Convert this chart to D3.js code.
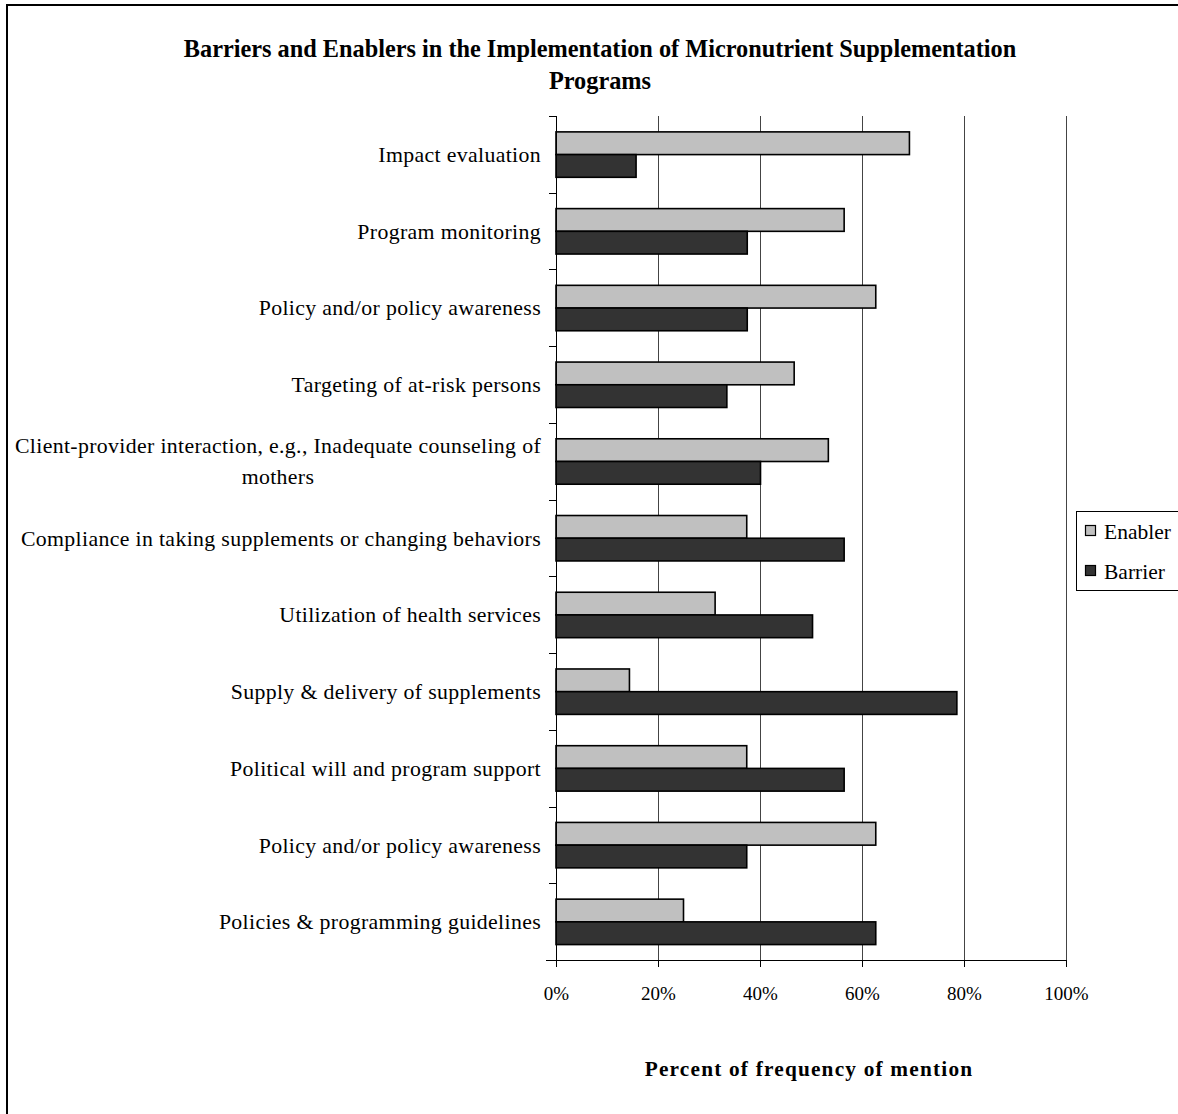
<!DOCTYPE html>
<html>
<head>
<meta charset="utf-8">
<script src="https://cdn.jsdelivr.net/npm/d3@7"></script>
<style>
  html, body { margin: 0; padding: 0; background: #fff; }
  svg { display: block; font-family: "Liberation Serif", "Times New Roman", serif; }
</style>
</head>
<body>
<svg id="chart" width="1178" height="1114"></svg>
<script>
// Categories, top to bottom
const categories = [
  "Impact evaluation",
  "Program monitoring ",
  "Policy and/or policy awareness",
  "Targeting of at-risk persons",
  "Client-provider interaction, e.g., Inadequate counseling of|mothers",
  "Compliance in taking supplements or changing behaviors",
  "Utilization of health services",
  "Supply & delivery of supplements",
  "Political will and program support",
  "Policy and/or policy awareness ",
  "Policies & programming guidelines"
];
// Percent of frequency of mention
const enablerValues = [69.3, 56.5, 62.7, 46.7, 53.4, 37.4, 31.2, 14.4, 37.4, 62.7, 25.0];
const barrierValues = [15.7, 37.5, 37.5, 33.5, 40.1, 56.5, 50.3, 78.6, 56.5, 37.4, 62.7];
const seriesNames = ["Enabler", "Barrier"];
const seriesColors = ["#c0c0c0", "#333333"];
const xTicks = [0, 20, 40, 60, 80, 100];

const svg = d3.select("#chart");

// outer frame
svg.append("rect")
  .attr("x", 7).attr("y", 5).attr("width", 1200).attr("height", 1200)
  .attr("fill", "none").attr("stroke", "#000").attr("stroke-width", 2);

const plot = { left: 556, right: 1066, top: 116, bottom: 960 };

const x = d3.scaleLinear().domain([0, 100]).range([plot.left, plot.right]);
const y = d3.scaleBand().domain(d3.range(categories.length)).range([plot.top, plot.bottom]).padding(0);
const bw = y.bandwidth();
const barH = bw * 0.296;
const barOff = bw * 0.207;

// vertical gridlines
svg.append("g").selectAll("line")
  .data(xTicks.slice(1))
  .join("line")
  .attr("x1", d => x(d) + 0.5).attr("x2", d => x(d) + 0.5)
  .attr("y1", plot.top).attr("y2", plot.bottom)
  .attr("stroke", "#444").attr("stroke-width", 1);

// bars
const rows = categories.map((c, i) => ({ i, vals: [enablerValues[i], barrierValues[i]] }));
const g = svg.append("g");
rows.forEach(r => {
  r.vals.forEach((v, s) => {
    g.append("rect")
      .attr("x", x(0))
      .attr("y", y(r.i) + barOff + s * barH)
      .attr("width", x(v) - x(0))
      .attr("height", barH)
      .attr("fill", seriesColors[s])
      .attr("stroke", "#000")
      .attr("stroke-width", 1.6);
  });
});

// x axis
const xAxis = d3.axisBottom(x)
  .tickValues(xTicks)
  .tickFormat(d => d + "%")
  .tickSize(7)
  .tickSizeOuter(0);
const xg = svg.append("g").attr("transform", `translate(0,${plot.bottom})`).call(xAxis);
xg.select(".domain").attr("d", `M${plot.left - 10},0.5H${plot.right}`).attr("stroke", "#000");
xg.selectAll(".tick line").attr("stroke", "#000");
xg.selectAll(".tick text")
  .attr("font-family", "Liberation Serif").attr("font-size", 19).attr("fill", "#000")
  .attr("dy", 0).attr("y", 40);

// y axis: ticks at category boundaries
const yg = svg.append("g");
yg.append("line")
  .attr("x1", plot.left + 0.5).attr("x2", plot.left + 0.5)
  .attr("y1", plot.top).attr("y2", plot.bottom + 7)
  .attr("stroke", "#000");
yg.selectAll("line.tk")
  .data(d3.range(categories.length + 1))
  .join("line").attr("class", "tk")
  .attr("x1", plot.left - 7).attr("x2", plot.left)
  .attr("y1", d => Math.round(plot.top + d * bw) + 0.5)
  .attr("y2", d => Math.round(plot.top + d * bw) + 0.5)
  .attr("stroke", "#000");

// category labels
categories.forEach((c, i) => {
  const lines = c.split("|");
  const cy = y(i) + bw / 2;
  const lh = 31;
  const t = svg.append("text")
    .attr("font-size", 21.8)
    .attr("letter-spacing", 0.35)
    .attr("fill", "#000");
  if (lines.length === 1) {
    t.attr("x", 541).attr("y", cy).attr("dy", "0.35em").attr("text-anchor", "end").text(lines[0]);
  } else {
    // wrapped label: block right-aligned, lines centred
    t.attr("text-anchor", "middle");
    const tmp = t.append("tspan").text(lines[0]);
    const w = tmp.node().getComputedTextLength();
    tmp.remove();
    const cx = 541 - w / 2;
    lines.forEach((ln, k) => {
      t.append("tspan")
        .attr("x", cx)
        .attr("y", cy + (k - (lines.length - 1) / 2) * lh)
        .attr("dy", "0.35em")
        .text(ln);
    });
  }
});

// title
const title = svg.append("text")
  .attr("text-anchor", "middle")
  .attr("font-weight", "bold")
  .attr("font-size", 24.3)
  .attr("fill", "#000");
title.append("tspan").attr("x", 600).attr("y", 57)
  .text("Barriers and Enablers in the Implementation of Micronutrient Supplementation");
title.append("tspan").attr("x", 600).attr("y", 89).text("Programs");

// axis title
svg.append("text")
  .attr("x", 809).attr("y", 1076)
  .attr("text-anchor", "middle")
  .attr("font-weight", "bold")
  .attr("font-size", 21.3)
  .attr("letter-spacing", 1.2)
  .attr("fill", "#000")
  .text("Percent of frequency of mention");

// legend
const lg = svg.append("g");
lg.append("rect")
  .attr("x", 1076.5).attr("y", 511.5).attr("width", 120).attr("height", 79)
  .attr("fill", "#fff").attr("stroke", "#000");
seriesNames.forEach((n, s) => {
  const ly = 531 + s * 40;
  lg.append("rect")
    .attr("x", 1085.5).attr("y", ly - 5.5).attr("width", 10).attr("height", 10)
    .attr("fill", seriesColors[s]).attr("stroke", "#000").attr("stroke-width", 1.2);
  lg.append("text")
    .attr("x", 1104).attr("y", ly).attr("dy", "0.35em")
    .attr("font-size", 21.5).attr("fill", "#000")
    .text(n);
});
</script>
</body>
</html>
